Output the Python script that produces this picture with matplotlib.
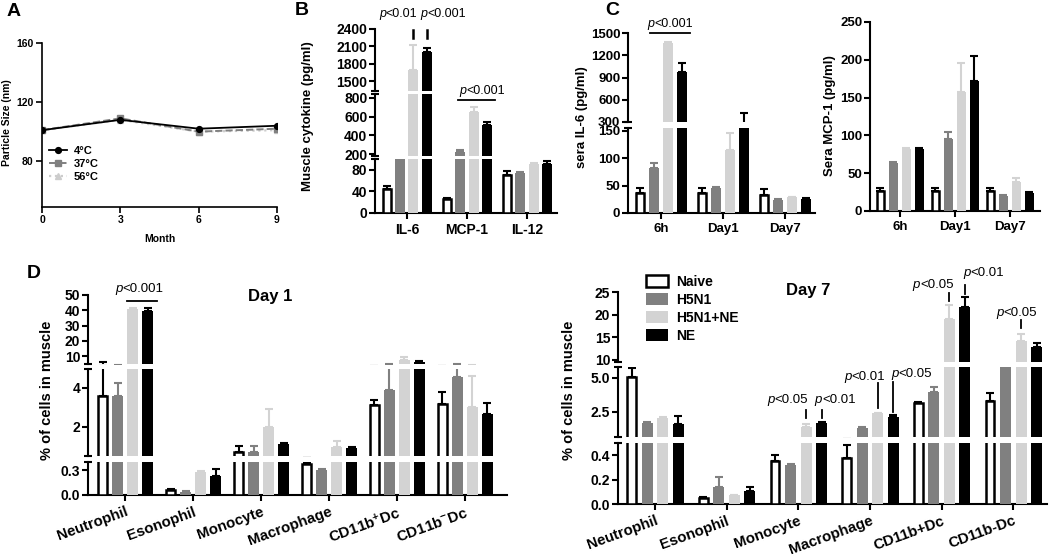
import numpy as np
import matplotlib
matplotlib.use("Agg")
import matplotlib.pyplot as plt
from matplotlib.patches import Patch

plt.rcParams['font.family'] = ['Liberation Sans', 'DejaVu Sans']
plt.rcParams['font.weight'] = 'bold'
plt.rcParams['mathtext.fontset'] = 'custom'
plt.rcParams['mathtext.rm'] = 'Liberation Sans'
plt.rcParams['mathtext.it'] = 'Liberation Sans:italic'
plt.rcParams['mathtext.bf'] = 'Liberation Sans:bold'
plt.rcParams['mathtext.default'] = 'regular'

W, H = 1050, 559
fig = plt.figure(figsize=(W / 100, H / 100), dpi=100)

# ---------------- data ----------------
months = [0, 3, 6, 9]
size_4c = [101, 108, 102, 104]
size_37c = [101, 109, 100, 102]
size_56c = [101, 108, 100, 101]

group_names = ['Naive', 'H5N1', 'H5N1+NE', 'NE']

musc_labels = ['IL-6', 'MCP-1', 'IL-12']
musc_mean = [[45, 150, 1693, 2003], [25, 222, 650, 510], [71, 74, 90, 91]]
musc_err = [[5, 0, 430, 70], [2, 20, 50, 30], [7, 1, 2, 5]]

time_labels = ['6h', 'Day1', 'Day7']
il6_mean = [[36, 82, 1362, 970], [36, 45, 115, 250], [33, 24, 29, 25]]
il6_err = [[9, 9, 15, 120], [9, 2, 30, 170], [10, 2, 1, 2]]
mcp1_mean = [[27, 64, 82, 82], [27, 95, 158, 172], [27, 20, 38, 24]]
mcp1_err = [[3, 1, 1, 1], [3, 10, 38, 33], [3, 1, 5, 1]]

cells_d1 = ['Neutrophil', 'Esonophil', 'Monocyte', 'Macrophage',
            'CD11b$^{+}$Dc', 'CD11b$^{-}$Dc']
day1_mean = [[3.6, 3.6, 41, 39.3], [0.06, 0.04, 0.28, 0.23],
             [0.72, 0.72, 2.0, 1.13], [0.38, 0.30, 0.97, 0.92],
             [3.13, 3.9, 7.6, 6.3], [3.2, 4.55, 3.0, 2.66]]
day1_err = [[2.4, 0.65, 0.5, 2.2], [0.01, 0.01, 0.01, 0.08],
            [0.3, 0.3, 0.9, 0.05], [0.01, 0.02, 0.3, 0.03],
            [0.25, 1.4, 2.0, 0.9], [0.6, 0.75, 1.6, 0.55]]

cells_d7 = ['Neutrophil', 'Esonophil', 'Monocyte', 'Macrophage',
            'CD11b+Dc', 'CD11b-Dc']
day7_mean = [[5.05, 1.7, 2.05, 1.6], [0.05, 0.14, 0.07, 0.11],
             [0.35, 0.32, 1.4, 1.7], [0.38, 1.33, 2.4, 2.1],
             [3.15, 3.95, 19.0, 21.7], [3.3, 8.0, 14.2, 12.9]]
day7_err = [[0.65, 0.05, 0.1, 0.6], [0.005, 0.08, 0.005, 0.03],
            [0.05, 0.01, 0.2, 0.05], [0.10, 0.03, 0.03, 0.15],
            [0.1, 0.4, 3.1, 2.2], [0.6, 0.0, 1.5, 0.7]]

# ---------------- helpers ----------------
BAR_COL = ['white', '#808080', '#d3d3d3', 'black']
ERR_COL = ['black', '#808080', '#d3d3d3', 'black']


def px_axes(l, t, r, b):
    return fig.add_axes([l / W, 1 - b / H, (r - l) / W, (b - t) / H])


def bar_panel(x_l, x_r, segs, xlim, mean, err, step, width, xlabels, fs,
              xfs, rot=0, lw=1.5):
    mean = np.asarray(mean, float)
    err = np.asarray(err, float)
    n = mean.shape[0]
    x = np.arange(n)
    axes = []
    for i, (t, b, ylim, ticks, fmt) in enumerate(segs):
        ax = px_axes(x_l, t, x_r, b)
        for j in range(4):
            xs = x + (j - 1.5) * step
            if j == 0:
                ax.bar(xs, mean[:, j], width * 0.8, color='white',
                       edgecolor='black', linewidth=1.8, zorder=3)
            else:
                ax.bar(xs, mean[:, j], width, color=BAR_COL[j], linewidth=0,
                       zorder=3)
            ax.errorbar(xs, mean[:, j], yerr=[np.zeros(n), err[:, j]],
                        fmt='none', ecolor=ERR_COL[j], elinewidth=lw,
                        capsize=2.8, capthick=lw, zorder=2)
        ax.set_xlim(xlim)
        ax.set_ylim(ylim)
        ax.set_yticks(ticks)
        ax.set_yticklabels([fmt.format(v) for v in ticks])
        for s in ['top', 'right']:
            ax.spines[s].set_visible(False)
        ax.spines['left'].set_linewidth(lw)
        ax.tick_params(axis='y', direction='out', length=4, width=lw,
                       labelsize=fs, pad=1.5)
        last = i == len(segs) - 1
        d = 4.0 / (x_r - x_l)
        if last:
            ax.spines['bottom'].set_linewidth(lw)
            ax.set_xticks(x)
            if rot:
                ax.set_xticklabels(xlabels, rotation=rot, ha='right',
                                   rotation_mode='anchor', fontsize=xfs)
            else:
                ax.set_xticklabels(xlabels, fontsize=xfs)
            ax.tick_params(axis='x', direction='out', length=4, width=lw,
                           pad=3)
        else:
            ax.spines['bottom'].set_visible(False)
            ax.set_xticks([])
            ax.plot([-d, d], [0, 0], transform=ax.transAxes, color='black',
                    lw=lw, clip_on=False, solid_capstyle='butt')
        if i > 0:
            ax.plot([-d, d], [1, 1], transform=ax.transAxes, color='black',
                    lw=lw, clip_on=False, solid_capstyle='butt')
        ax.patch.set_alpha(0)
        axes.append(ax)
    return axes


CHAR_W = {'<': 0.584, '.': 0.278}


def pval(ax, x, y, s, ha='center', fs=9):
    """Draw 'p<...' with italic p, regular weight."""
    rest = '<' + s
    w_p = 0.556 * fs
    w_r = sum(CHAR_W.get(c, 0.556) for c in rest) * fs
    tot = w_p + w_r
    start = {'left': 0.0, 'center': -tot / 2, 'right': -tot}[ha]
    ax.annotate('p', (x, y), xytext=(start, 0), textcoords='offset points',
                ha='left', va='center', fontsize=fs, fontstyle='italic',
                fontweight='normal', annotation_clip=False)
    ax.annotate(rest, (x, y), xytext=(start + w_p, 0),
                textcoords='offset points', ha='left', va='center',
                fontsize=fs, fontweight='normal', annotation_clip=False)


def pline(ax, xs, ys, lw=1.3):
    ax.plot(xs, ys, color='black', lw=lw, clip_on=False)


# ---------------- panel A ----------------
axA = px_axes(42, 43, 277, 207)
axA.plot(months, size_56c, ':^', color='#cccccc', ms=5, lw=1.6,
         label='56°C', zorder=1)
axA.plot(months, size_37c, '--s', color='#808080', ms=4.2, lw=1.4,
         label='37°C', zorder=2)
axA.plot(months, size_4c, '-o', color='black', ms=4.2, lw=1.3,
         label='4°C', zorder=3)
axA.set_xlim(0, 9)
axA.set_ylim(49, 160)
axA.set_xticks(months)
axA.set_yticks([80, 120, 160])
for s in ['top', 'right']:
    axA.spines[s].set_visible(False)
for s in ['left', 'bottom']:
    axA.spines[s].set_linewidth(1.2)
axA.tick_params(direction='out', length=4, width=1.2, labelsize=7.5, pad=2)
hA, lA = axA.get_legend_handles_labels()
axA.legend(hA[::-1], lA[::-1], loc='upper left', bbox_to_anchor=(0.03, 0.37),
           frameon=False, fontsize=8, handlelength=1.6, labelspacing=0.25,
           handletextpad=0.6, borderpad=0, borderaxespad=0)
axA.patch.set_alpha(0)

# ---------------- panel B ----------------
segB = [(29, 91, (1330, 2400), [1500, 1800, 2100, 2400], '{:d}'),
        (94, 156, (180, 840), [200, 400, 600, 800], '{:d}'),
        (159, 213, (0, 100), [0, 40, 80], '{:d}')]
axB = bar_panel(375, 557, segB, (-0.53, 2.5), musc_mean, musc_err,
                13.3 / 60, 10 / 60, musc_labels, 10, 10)
offB = (np.arange(4) - 1.5) * 13.3 / 60
pline(axB[0], [offB[2], offB[2]], [2245, 2383], lw=1.8)
pline(axB[0], [offB[3], offB[3]], [2245, 2383], lw=1.8)
pval(axB[0], offB[2] + 4 / 60, 2659, '0.01', ha='right')
pval(axB[0], offB[3] - 6 / 60, 2659, '0.001', ha='left')
pline(axB[1], [1 - 9 / 60, 1 + 28 / 60], [779, 779])
pval(axB[1], 1.25, 875, '0.001')

# ---------------- panel C ----------------
segC = [(33, 122, (300, 1500), [300, 600, 900, 1200, 1500], '{:d}'),
        (128, 213, (0, 155), [0, 50, 100, 150], '{:d}')]
axC = bar_panel(628, 815, segC, (-0.53, 2.48), il6_mean, il6_err,
                14 / 62, 10 / 62, time_labels, 9.5, 9.5)
pline(axC[0], [-0.18, 0.47], [1500, 1500])
pval(axC[0], 0.15, 1621, '0.001')

segC2 = [(22, 211, (0, 250), [0, 50, 100, 150, 200, 250], '{:d}')]
axC2 = bar_panel(870, 1040, segC2, (-0.545, 2.55), mcp1_mean, mcp1_err,
                 13 / 55, 9.5 / 55, time_labels, 9.5, 9.5)

# ---------------- panel D (Day 1) ----------------
segD1 = [(295, 364, (5, 50), [10, 20, 30, 40, 50], '{:d}'),
         (368.5, 456, (0.5, 5), [2, 4], '{:d}'),
         (462, 495, (0, 0.4), [0.0, 0.3], '{:.1f}')]
axD1 = bar_panel(88, 507, segD1, (-0.55, 5.62), day1_mean, day1_err,
                 15 / 67.9, 11 / 67.9, cells_d1, 10, 10.8, rot=20)
pline(axD1[0], [0.022, 0.464], [46.1, 46.1])
pval(axD1[0], 0.2, 53.9, '0.001', fs=9.5)
axD1[0].text(2.13, 49.3, 'Day 1', ha='center', va='center', fontsize=12,
             fontweight='bold')

# ---------------- panel D (Day 7) ----------------
segD7 = [(292, 362, (9.5, 25), [10, 15, 20, 25], '{:d}'),
         (367, 437, (0.66, 5.8), [2.5, 5.0], '{:.1f}'),
         (443, 504, (0, 0.5), [0.0, 0.2, 0.4], '{:.1f}')]
axD7 = bar_panel(618, 1047, segD7, (-0.517, 5.47), day7_mean, day7_err,
                 15.5 / 71.6, 11 / 71.6, cells_d7, 10, 10.8, rot=20)
offD = (np.arange(4) - 1.5) * 15.5 / 71.6
u = 1 / 71.6
# monocyte
pline(axD7[1], [2 + offD[2]] * 2, [2.06, 2.65])
pline(axD7[1], [2 + offD[3]] * 2, [2.06, 2.65])
pval(axD7[1], 2 + offD[2] + 2 * u, 3.38, '0.05', ha='right', fs=9.5)
pval(axD7[1], 2 + offD[3] - 7 * u, 3.38, '0.01', ha='left', fs=9.5)
# macrophage
pline(axD7[1], [3 + offD[2]] * 2, [2.79, 4.63])
pline(axD7[1], [3 + offD[3]] * 2, [2.5, 4.71])
pval(axD7[1], 3 + offD[2] + 7 * u, 5.07, '0.01', ha='right', fs=9.5)
pval(axD7[1], 3 + offD[3] - 2 * u, 5.29, '0.05', ha='left', fs=9.5)
# CD11b+Dc
pline(axD7[0], [4 + offD[2]] * 2, [23.0, 24.8])
pline(axD7[0], [4 + offD[3]] * 2, [24.6, 26.5])
pval(axD7[0], 4 + offD[2] + 4 * u, 26.5, '0.05', ha='right', fs=9.5)
pval(axD7[0], 4 + offD[3] - 2 * u, 29.2, '0.01', ha='left', fs=9.5)
# CD11b-Dc
pline(axD7[0], [5 + offD[2]] * 2, [17.1, 18.8])
pval(axD7[0], 5 + 3 * u, 20.4, '0.05', fs=9.5)
axD7[0].text(2.14, 25.44, 'Day 7', ha='center', va='center', fontsize=12,
             fontweight='bold')

handles = [Patch(facecolor='white', edgecolor='black', linewidth=1.8),
           Patch(facecolor='#808080', edgecolor='none'),
           Patch(facecolor='#d3d3d3', edgecolor='none'),
           Patch(facecolor='black', edgecolor='none')]
fig.legend(handles, group_names, loc='upper left',
           bbox_to_anchor=(646 / W, 1 - 275 / H), frameon=False, fontsize=10,
           handlelength=1.6, handleheight=1.0, labelspacing=0.28,
           handletextpad=0.6, borderpad=0, borderaxespad=0)


# ---------------- labels ----------------
def ftext(x, y, s, **kw):
    fig.text(x / W, 1 - y / H, s, **kw)


ftext(7, 123, 'Particle Size (nm)', rotation=90, ha='center', va='center',
      fontsize=7.5)
ftext(160, 239, 'Month', ha='center', va='center', fontsize=7.5)
ftext(308, 116, 'Muscle cytokine (pg/ml)', rotation=90, ha='center',
      va='center', fontsize=9.5)
ftext(582, 117, 'sera IL-6 (pg/ml)', rotation=90, ha='center', va='center',
      fontsize=9.5)
ftext(830, 116, 'Sera MCP-1 (pg/ml)', rotation=90, ha='center', va='center',
      fontsize=9.5)
ftext(47, 390, '% of cells in muscle', rotation=90, ha='center',
      va='center', fontsize=10.5)
ftext(569, 390, '% of cells in muscle', rotation=90, ha='center',
      va='center', fontsize=10.5)

for s, x, y in [('A', 7, 3), ('B', 295, 2), ('C', 605, 2), ('D', 27, 265)]:
    ftext(x, y, s, ha='left', va='top', fontsize=14, fontweight='bold')

fig.savefig('out.png', dpi=100)
